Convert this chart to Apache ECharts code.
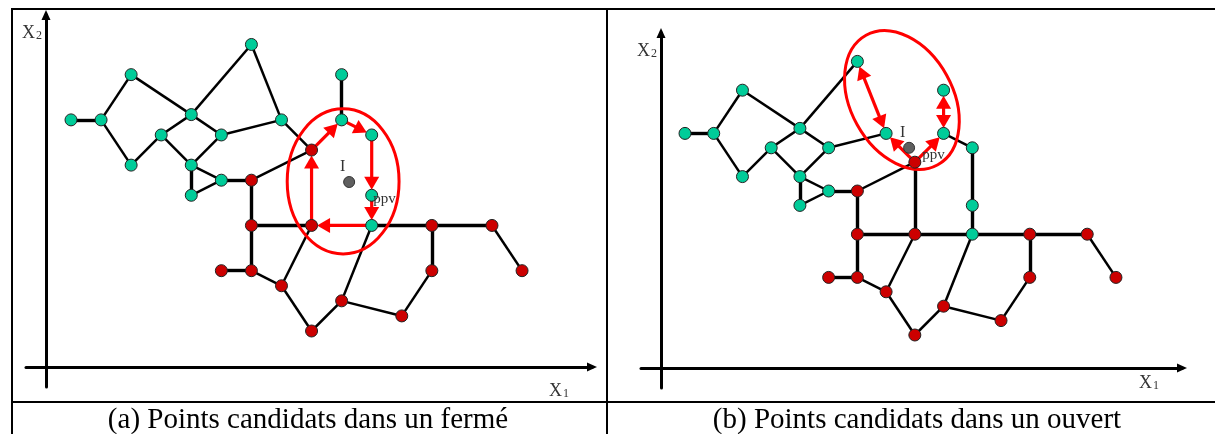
<!DOCTYPE html>
<html>
<head>
<meta charset="utf-8">
<script src="https://cdn.jsdelivr.net/npm/echarts@6.0.0/dist/echarts.min.js"></script>
<style>
	html,body{margin:0;padding:0;background:#fff;}
	#chart{width:1215px;height:434px;}
</style>
</head>
<body>
<div id="chart"></div>
<script>
	// vertices, on the lattice shared by both panels
	const nodeX = [0,1,2,2,3,4,5,4,5,4,6,6,7,8,9,9,10,10,6,8,10,12,14,15,12,5,6,7,9,8,11];
	const nodeY = [14,14,17,11,13,14.35,13,11,10,9,10,19,14,12,17,14,13,9,7,7,7,7,7,4,4,4,4,3,2,0,1];
	// c = cyan point, r = red point
	const nodeKind = ['c','c','c','c','c','c','c','c','c','c','r','c','c','r','c','c','c','c','r','r','c','r','r','r','r','r','r','r','r','r','r'];
	const edges = [[0,1],[1,2],[1,3],[2,5],[3,4],[4,5],[5,11],[11,12],[5,6],[4,7],[6,7],[6,12],[7,8],[7,9],[9,8],[8,10],
		[10,13],[12,13],[10,18],[18,19],[19,20],[20,21],[21,22],[22,23],[21,24],[24,30],[30,28],[28,20],[28,29],[29,27],
		[27,19],[27,26],[26,25],[26,18],[14,15],[13,15],[15,16],[16,17],[17,20],[13,19]];

	// red arrows: from, to, double headed
	const arrowsA = [[13,15,0],[15,16,0],[16,17,0],[17,20,0],[20,19,0],[19,13,0]];
	const arrowsB = [[13,12,0],[13,15,0],[12,11,1],[15,14,1]];
	// point I
	const pointA = [9.25, 9.88];
	const pointB = [7.8, 13.0];
	// neighbourhood: centre x, centre y, radius x, radius y, tilt (deg)
	const ellipseA = [9.05, 9.92, 1.86, 4.81, 0];
	const ellipseB = [7.55, 16.32, 1.78, 5.14, 29];
	const ppvNode = [17, 13];
	const captions = ['(a) Points candidats dans un fermé', '(b) Points candidats dans un ouvert'];

	const serif = '"Liberation Serif", "Times New Roman", serif';
	const kindColor = {c: '#00cc99', r: '#cc0000'};

	const panels = [
		{grid: {left: 26, top: 15, width: 566, height: 372}, org: [46, 367], lat: [71, 331, 30.07, 15.08],
			arrows: arrowsA, point: pointA, ellipse: ellipseA, ppvPos: [8, 10], x1Pad: 15, cx: 308},
		{grid: {left: 641, top: 33, width: 541, height: 355}, org: [661, 368], lat: [685, 335, 28.73, 14.4],
			arrows: arrowsB, point: pointB, ellipse: ellipseB, ppvPos: [14, -0.5], x1Pad: 6, cx: 917}
	];

	const subRich = function(){
		return {
			x: {fontFamily: serif, fontSize: 18, lineHeight: 18, color: '#333', verticalAlign: 'top'},
			s: {fontFamily: serif, fontSize: 12, lineHeight: 12, color: '#333', verticalAlign: 'bottom', padding: [10, 0, 0, 1]}
		};
	};

	const arrowItem = function(params, api){
		const a = api.coord([api.value(0), api.value(1)]);
		const b = api.coord([api.value(2), api.value(3)]);
		const both = api.value(4) === 1;
		const dx = b[0] - a[0], dy = b[1] - a[1];
		const len = Math.sqrt(dx * dx + dy * dy);
		const ux = dx / len, uy = dy / len;
		const gap = 5.5, head = 13, half = 7.5;
		const headAt = function(p, vx, vy){
			const tx = p[0] - vx * gap, ty = p[1] - vy * gap;
			const bx = tx - vx * head, by = ty - vy * head;
			return {type: 'polygon', shape: {points: [[tx, ty], [bx - vy * half, by + vx * half], [bx + vy * half, by - vx * half]]},
				style: {fill: '#ff0000'}};
		};
		const back = gap + head - 1;
		const start = both ? [a[0] + ux * back, a[1] + uy * back] : a;
		const end = [b[0] - ux * back, b[1] - uy * back];
		const kids = [{type: 'line', shape: {x1: start[0], y1: start[1], x2: end[0], y2: end[1]}, style: {stroke: '#ff0000', lineWidth: 3.2}}];
		kids.push(headAt(b, ux, uy));
		if (both) kids.push(headAt(a, -ux, -uy));
		return {type: 'group', children: kids};
	};

	const ellipseItem = function(params, api){
		const c = api.coord([api.value(0), api.value(1)]);
		const s = api.size([api.value(2), api.value(3)]);
		return {
			type: 'ellipse', x: c[0], y: c[1], rotation: api.value(4) * Math.PI / 180,
			shape: {cx: 0, cy: 0, rx: s[0], ry: s[1]},
			style: {fill: 'none', stroke: '#ff0000', lineWidth: 3}
		};
	};

	const grids = [], xAxes = [], yAxes = [], series = [], graphics = [];

	panels.forEach((p, k) => {
		const g = p.grid;
		grids.push(g);
		const axisLine = {show: true, onZero: false, symbol: ['none', 'triangle'], symbolSize: [9, 10], lineStyle: {color: '#000', width: 3}};
		xAxes.push({
			gridIndex: k, type: 'value',
			min: (g.left - p.lat[0]) / p.lat[2], max: (g.left + g.width - p.lat[0]) / p.lat[2],
			offset: -(g.top + g.height - p.org[1]),
			axisLine: axisLine, axisTick: {show: false}, axisLabel: {show: false}, splitLine: {show: false},
			name: '{x|X}{s|1}', nameLocation: 'end', nameGap: -23,
			nameTextStyle: {align: 'right', verticalAlign: 'top', padding: [p.x1Pad, 0, 0, 0], rich: subRich()}
		});
		yAxes.push({
			gridIndex: k, type: 'value',
			min: (p.lat[1] - g.top - g.height) / p.lat[3], max: (p.lat[1] - g.top) / p.lat[3],
			offset: -(p.org[0] - g.left),
			axisLine: axisLine, axisTick: {show: false}, axisLabel: {show: false}, splitLine: {show: false},
			name: '{x|X}{s|2}', nameLocation: 'end', nameGap: -18,
			nameTextStyle: {align: 'right', verticalAlign: 'middle', padding: [0, 4, 0, 0], rich: subRich()}
		});

		// black edges that a red arrow does not already cover
		const covered = p.arrows.map(a => Math.min(a[0], a[1]) + '-' + Math.max(a[0], a[1]));
		const edgeData = [];
		edges.forEach(e => {
			if (covered.indexOf(Math.min(e[0], e[1]) + '-' + Math.max(e[0], e[1])) >= 0) return;
			const straight = nodeX[e[0]] === nodeX[e[1]] || nodeY[e[0]] === nodeY[e[1]];
			edgeData.push({coords: [[nodeX[e[0]], nodeY[e[0]]], [nodeX[e[1]], nodeY[e[1]]]], lineStyle: {width: straight ? 3.4 : 2.5}});
		});
		series.push({
			type: 'lines', coordinateSystem: 'cartesian2d', xAxisIndex: k, yAxisIndex: k, z: 1, silent: true,
			lineStyle: {color: '#000', opacity: 1}, data: edgeData
		});
		series.push({
			type: 'custom', xAxisIndex: k, yAxisIndex: k, z: 2, silent: true,
			renderItem: ellipseItem, data: [p.ellipse]
		});
		series.push({
			type: 'custom', xAxisIndex: k, yAxisIndex: k, z: 3, silent: true,
			renderItem: arrowItem,
			data: p.arrows.map(a => [nodeX[a[0]], nodeY[a[0]], nodeX[a[1]], nodeY[a[1]], a[2]])
		});
		series.push({
			type: 'scatter', xAxisIndex: k, yAxisIndex: k, z: 4, silent: true,
			symbol: 'circle', symbolSize: 12,
			data: nodeX.map((x, i) => {
				const item = {value: [x, nodeY[i]], itemStyle: {color: kindColor[nodeKind[i]], opacity: 1, borderColor: '#222', borderWidth: 1}};
				if (i === ppvNode[k]) {
					item.label = {show: true, formatter: 'ppv', position: p.ppvPos, align: 'left', verticalAlign: 'middle',
						fontFamily: serif, fontSize: 15, color: '#333'};
				}
				return item;
			})
		});
		series.push({
			type: 'scatter', xAxisIndex: k, yAxisIndex: k, z: 4, silent: true,
			symbol: 'circle', symbolSize: 11,
			itemStyle: {color: '#5f5f5f', opacity: 1, borderColor: '#333', borderWidth: 1},
			label: {show: true, formatter: 'I', position: [-0.5, -9.5], align: 'center', verticalAlign: 'middle',
				fontFamily: serif, fontSize: 16, color: '#333'},
			data: [p.point]
		});

		graphics.push({type: 'text', x: p.cx, y: 420, silent: true,
			style: {text: captions[k], font: '29px ' + serif, fill: '#000', textAlign: 'center', textVerticalAlign: 'middle'}});
	});

	// table frame
	const frame = [[12, 9, 1215, 9], [12, 8, 12, 434], [607, 8, 607, 434], [12, 402, 1215, 402]];
	frame.forEach(f => {
		graphics.push({type: 'line', silent: true, shape: {x1: f[0], y1: f[1], x2: f[2], y2: f[3]}, style: {stroke: '#000', lineWidth: 2}});
	});

	const myChart = echarts.init(document.getElementById('chart'));
	myChart.setOption({
		animation: false,
		backgroundColor: '#fff',
		grid: grids,
		xAxis: xAxes,
		yAxis: yAxes,
		series: series,
		graphic: graphics
	});
</script>
</body>
</html>
